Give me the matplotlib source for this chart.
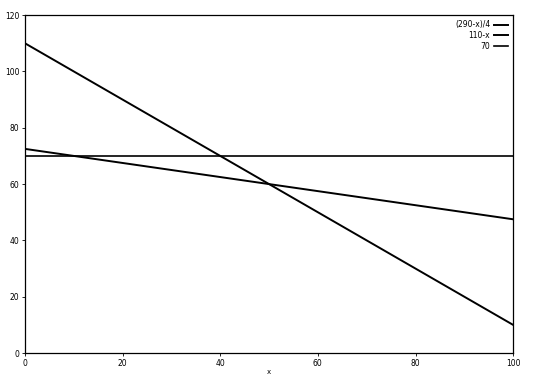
import matplotlib.pyplot as plt

# data
x = [0, 100]
y_quarter = [72.5, 47.5]   # (290-x)/4
y_diff = [110, 10]         # 110-x
y_const = [70, 70]         # 70
labels = ['(290-x)/4', '110-x', '70']

fig = plt.figure(figsize=(5.43, 3.78), dpi=100)
ax = fig.add_axes([0.046, 0.066, 0.899, 0.894])

ax.plot(x, y_quarter, color='black', lw=1.4, label=labels[0])
ax.plot(x, y_diff, color='black', lw=1.4, label=labels[1])
ax.plot(x, y_const, color='black', lw=1.2, label=labels[2])

ax.set_xlim(0, 100)
ax.set_ylim(0, 120)
ax.set_xticks([0, 20, 40, 60, 80, 100])
ax.set_yticks([0, 20, 40, 60, 80, 100, 120])
ax.tick_params(labelsize=5.5, length=2, width=0.6, pad=2)
for s in ax.spines.values():
    s.set_linewidth(0.9)

ax.set_xlabel('x', fontsize=5, labelpad=1)

ax.legend(loc='upper right', frameon=False, markerfirst=False, fontsize=5.5,
          handlelength=1.8, handletextpad=0.5, labelspacing=0.2,
          borderaxespad=0.3)

fig.savefig('out.png')
